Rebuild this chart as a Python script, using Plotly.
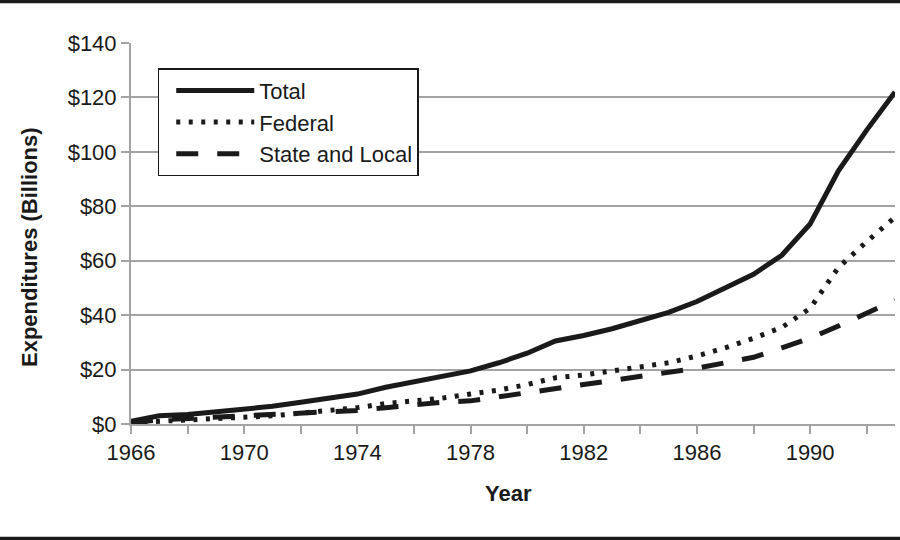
import plotly.graph_objects as go

years = list(range(1966, 1994))
total = [1, 3, 3.5, 4.5, 5.5, 6.5, 8, 9.5, 11, 13.5, 15.5, 17.5, 19.5, 22.5, 26, 30.5,
         32.5, 35, 38, 41, 45, 50, 55, 62, 73.5, 93, 108, 122]
federal = [0.5, 1, 1.5, 2, 2.5, 3, 4, 5, 6, 7.5, 8.5, 9.5, 11, 12.5, 14.5, 17,
           18, 19.5, 21, 22.5, 25, 28, 31.5, 35.5, 42.5, 57.5, 67, 76]
state_local = [0.5, 1.5, 2, 2.5, 3, 3.5, 4, 4.5, 5, 6, 7, 8, 8.5, 10, 11.5, 13,
               14.3, 15.8, 17.2, 18.8, 20.5, 22.5, 24.5, 28, 31.5, 36, 40.5, 45.5]
x_ticks = [1966, 1968, 1970, 1972, 1974, 1976, 1978, 1980, 1982, 1984, 1986, 1988, 1990, 1992]
x_labels = ["1966", "", "1970", "", "1974", "", "1978", "", "1982", "", "1986", "", "1990", ""]
y_ticks = [0, 20, 40, 60, 80, 100, 120, 140]
y_labels = ["$" + str(v) for v in y_ticks]

FONT = "Liberation Sans, Arial, Helvetica, sans-serif"
GRAY = "#a3a3a3"
INK = "#1a1a1a"

fig = go.Figure()
fig.add_trace(go.Scatter(x=years, y=total, name="Total", mode="lines",
                         line=dict(color=INK, width=5)))
fig.add_trace(go.Scatter(x=years, y=federal, name="Federal", mode="lines",
                         line=dict(color=INK, width=5, dash="4px,8.5px")))
fig.add_trace(go.Scatter(x=years, y=state_local, name="State and Local", mode="lines",
                         line=dict(color=INK, width=5, dash="22px,19px")))

fig.update_layout(
    width=900, height=540,
    margin=dict(l=131, r=5, t=43, b=116),
    paper_bgcolor="white", plot_bgcolor="white",
    font=dict(family=FONT, size=22, color=INK),
    showlegend=True,
    legend=dict(x=0.035, y=0.934, xanchor="left", yanchor="top",
                bordercolor=INK, borderwidth=1.5, bgcolor="white",
                font=dict(family=FONT, size=22, color=INK),
                itemwidth=78, tracegroupgap=0, indentation=12),
    xaxis=dict(range=[1966, 1993], tickvals=x_ticks, ticktext=x_labels,
               ticks="outside", ticklen=8, tickwidth=2, tickcolor=GRAY,
               showline=True, linecolor=GRAY, linewidth=2, showgrid=False,
               zeroline=False, automargin=False,
               tickfont=dict(family=FONT, size=22)),
    yaxis=dict(range=[0, 140], tickvals=y_ticks, ticktext=y_labels,
               ticks="outside", ticklen=8, tickwidth=2, tickcolor=GRAY,
               showline=True, linecolor=GRAY, linewidth=2,
               showgrid=True, gridcolor=GRAY, gridwidth=2, zeroline=False,
               automargin=False,
               tickfont=dict(family=FONT, size=22)),
)

fig.add_annotation(text="<b>Expenditures (Billions)</b>", xref="paper", yref="paper",
                   x=(30 - 131) / 764, y=(424 - 247) / 381, textangle=-90,
                   showarrow=False, xanchor="center", yanchor="middle",
                   font=dict(family=FONT, size=22, color=INK))
fig.add_annotation(text="<b>Year</b>", xref="paper", yref="paper",
                   x=(508 - 131) / 764, y=(424 - 493) / 381,
                   showarrow=False, xanchor="center", yanchor="middle",
                   font=dict(family=FONT, size=22, color=INK))

fig.add_shape(type="line", xref="paper", yref="paper", x0=-0.2, x1=1.1,
              y0=(424 - 1.5) / 381, y1=(424 - 1.5) / 381,
              line=dict(color=INK, width=3.5))
fig.add_shape(type="line", xref="paper", yref="paper", x0=-0.2, x1=1.1,
              y0=(424 - 538.5) / 381, y1=(424 - 538.5) / 381,
              line=dict(color=INK, width=3.5))

fig.write_html("out.html", config={"displayModeBar": False},
               post_script="document.body.style.margin='0';document.body.style.overflow='hidden';")
